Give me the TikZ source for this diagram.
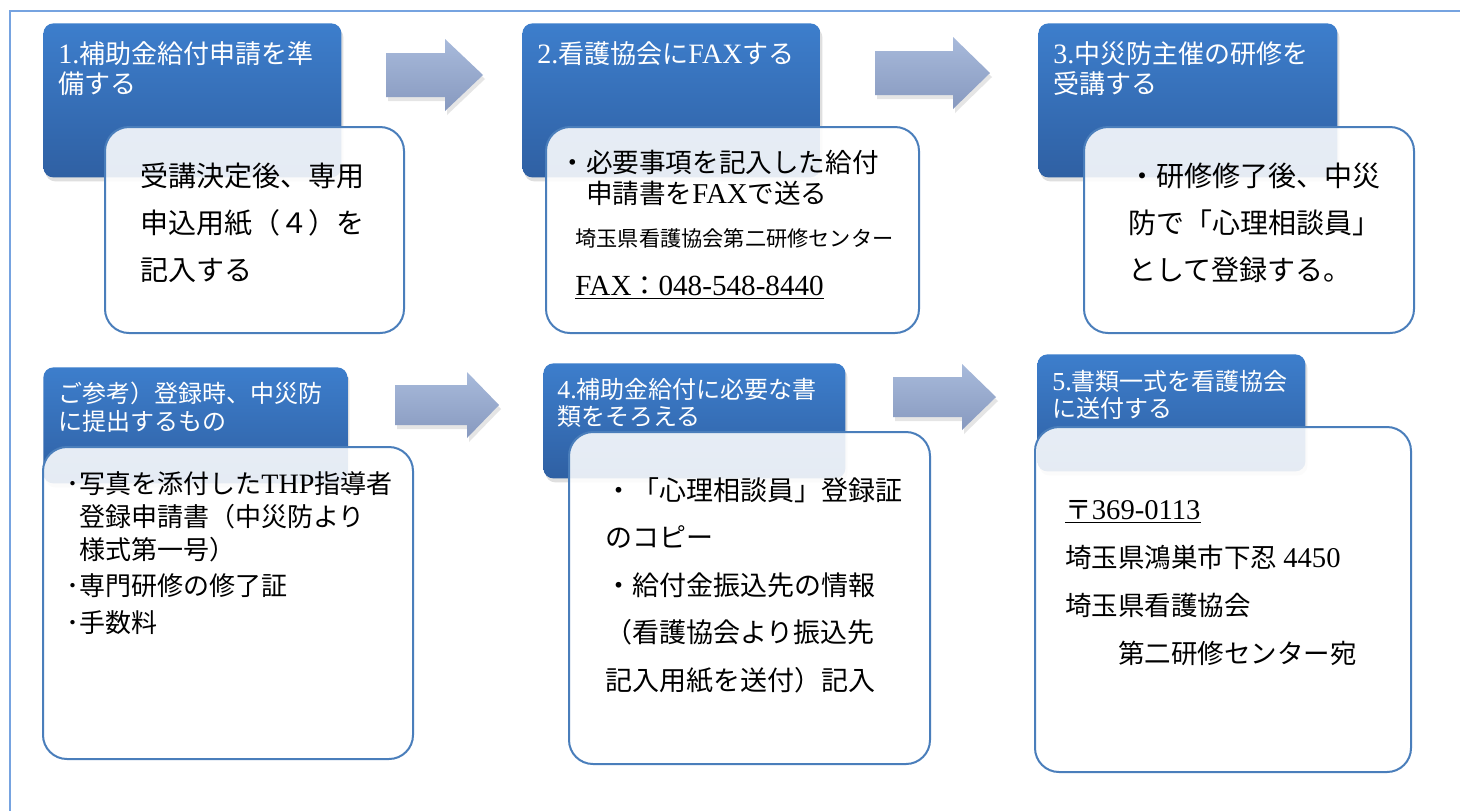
\documentclass[tikz,border=0pt]{standalone}
\usepackage{fontspec}
\setmainfont{Noto Sans CJK JP}
\newfontfamily\romfont[Scale=1.08]{Liberation Serif}
\usetikzlibrary{shadows}

\definecolor{hdtop}{HTML}{3D7ECC}
\definecolor{hdbot}{HTML}{2F60A3}
\definecolor{boxline}{HTML}{4A7EBB}
\definecolor{arrtop}{HTML}{A8BADB}
\definecolor{arrbot}{HTML}{8799BF}
\definecolor{frameline}{HTML}{76A3E0}

\begin{document}
\begin{tikzpicture}[x=0.5pt,y=-0.5pt,
    headbox/.style={anchor=north west,rounded corners=5pt,top color=hdtop,bottom color=hdbot,
      drop shadow={opacity=0.25,shadow xshift=1pt,shadow yshift=-2pt}},
    infobox/.style={anchor=north west,rounded corners=12pt,draw=boxline,line width=1pt,
      fill=white,fill opacity=0.88},
    flowarrow/.style={top color=arrtop,bottom color=arrbot,
      drop shadow={opacity=0.2,shadow xshift=1pt,shadow yshift=-2pt}},
    headtext/.style={anchor=base west,inner sep=0pt,text=white,align=left},
    bodytext/.style={anchor=base west,inner sep=0pt,align=left}]
    \useasboundingbox (0,0) rectangle (1460,810);
    \fill[white] (0,0) rectangle (1460,810);
    \draw[frameline,line width=1pt] (10,820) -- (10,11) -- (1470,11);

    % header boxes and info boxes
    \node[headbox,minimum width=149pt,minimum height=77pt] (head1) at (43,23) {};
    \node[infobox,minimum width=149.5pt,minimum height=103pt] (info1) at (104,126) {};
    \node[headbox,minimum width=149pt,minimum height=77pt] (head2) at (522,23) {};
    \node[infobox,minimum width=186.5pt,minimum height=103pt] (info2) at (545,126) {};
    \node[headbox,minimum width=149.5pt,minimum height=77pt] (head3) at (1038,23) {};
    \node[infobox,minimum width=165pt,minimum height=103pt] (info3) at (1083,126) {};
    \node[headbox,minimum width=152pt,minimum height=58pt] (head4) at (43,367) {};
    \node[infobox,minimum width=185pt,minimum height=156pt] (info4) at (42,446) {};
    \node[headbox,minimum width=151pt,minimum height=57.5pt] (head5) at (543,363) {};
    \node[infobox,minimum width=180.5pt,minimum height=166pt] (info5) at (568,431) {};
    \node[headbox,minimum width=134pt,minimum height=58.5pt] (head6) at (1037,354) {};
    \node[infobox,minimum width=188pt,minimum height=172.5pt] (info6) at (1034,426) {};

    % block arrows
    \foreach \xa/\xb/\xc/\ym/\bh/\hh in {386/445/483/75/22/36, 875/953/990/73/22/36,
        395/467/499/405/20/33, 893/962/996/397/20/33}
        \path[flowarrow] (\xa,\ym-\bh) -- (\xb,\ym-\bh) -- (\xb,\ym-\hh) -- (\xc,\ym)
            -- (\xb,\ym+\hh) -- (\xb,\ym+\bh) -- (\xa,\ym+\bh) -- cycle;

    % texts (base = last line)
    \node[headtext,font=\fontsize{13}{15}\selectfont] (ttl1) at (58,93)
        {{\romfont 1.}補助金給付申請を準\\備する};
    \node[bodytext,font=\fontsize{14}{23.5}\selectfont] (txt1) at (140,280)
        {受講決定後、専用\\申込用紙（４）を\\記入する};
    \node[headtext,font=\fontsize{13}{15}\selectfont] (ttl2) at (537,63)
        {{\romfont 2.}看護協会に{\romfont FAX}する};
    \node[bodytext,font=\fontsize{13.3}{15.5}\selectfont] (txt2) at (559,203)
        {・必要事項を記入した給付\\　申請書を{\romfont FAX}で送る};
    \node[bodytext,font=\fontsize{10.6}{12}\selectfont] (center2) at (575,246)
        {埼玉県看護協会第二研修センター};
    \node[bodytext,font=\fontsize{13.5}{15}\selectfont] (fax2) at (575,295)
        {\underline{{\romfont FAX}：{\romfont 048-548-8440}}};
    \node[headtext,font=\fontsize{13}{15}\selectfont] (ttl3) at (1053,93)
        {{\romfont 3.}中災防主催の研修を\\受講する};
    \node[bodytext,font=\fontsize{14}{23.5}\selectfont] (txt3) at (1128,280)
        {・研修修了後、中災\\防で「心理相談員」\\として登録する。};
    \node[headtext,font=\fontsize{12}{14}\selectfont] (ttl4) at (58,430)
        {ご参考）登録時、中災防\\に提出するもの};
    \node[bodytext,font=\fontsize{13}{16.5}\selectfont] (txt4) at (66,632)
        {･写真を添付した{\romfont THP}指導者\\\phantom{･}登録申請書（中災防より\\\phantom{･}様式第一号）\\[1.5pt]･専門研修の修了証\\[2pt]･手数料};
    \node[headtext,font=\fontsize{12}{13.5}\selectfont] (ttl5) at (557,425)
        {{\romfont 4.}補助金給付に必要な書\\類をそろえる};
    \node[bodytext,font=\fontsize{13.5}{23.75}\selectfont] (txt5) at (605,690)
        {・「心理相談員」登録証\\のコピー\\・給付金振込先の情報\\（看護協会より振込先\\記入用紙を送付）記入};
    \node[headtext,font=\fontsize{12}{13.5}\selectfont] (ttl6) at (1052,417)
        {{\romfont 5.}書類一式を看護協会\\に送付する};
    \node[bodytext,font=\fontsize{13.25}{24}\selectfont] (txt6) at (1065,663)
        {\underline{〒{\romfont 369-0113}}\\埼玉県鴻巣市下忍 {\romfont 4450}\\埼玉県看護協会\\　　第二研修センター宛};
\end{tikzpicture}
\end{document}
